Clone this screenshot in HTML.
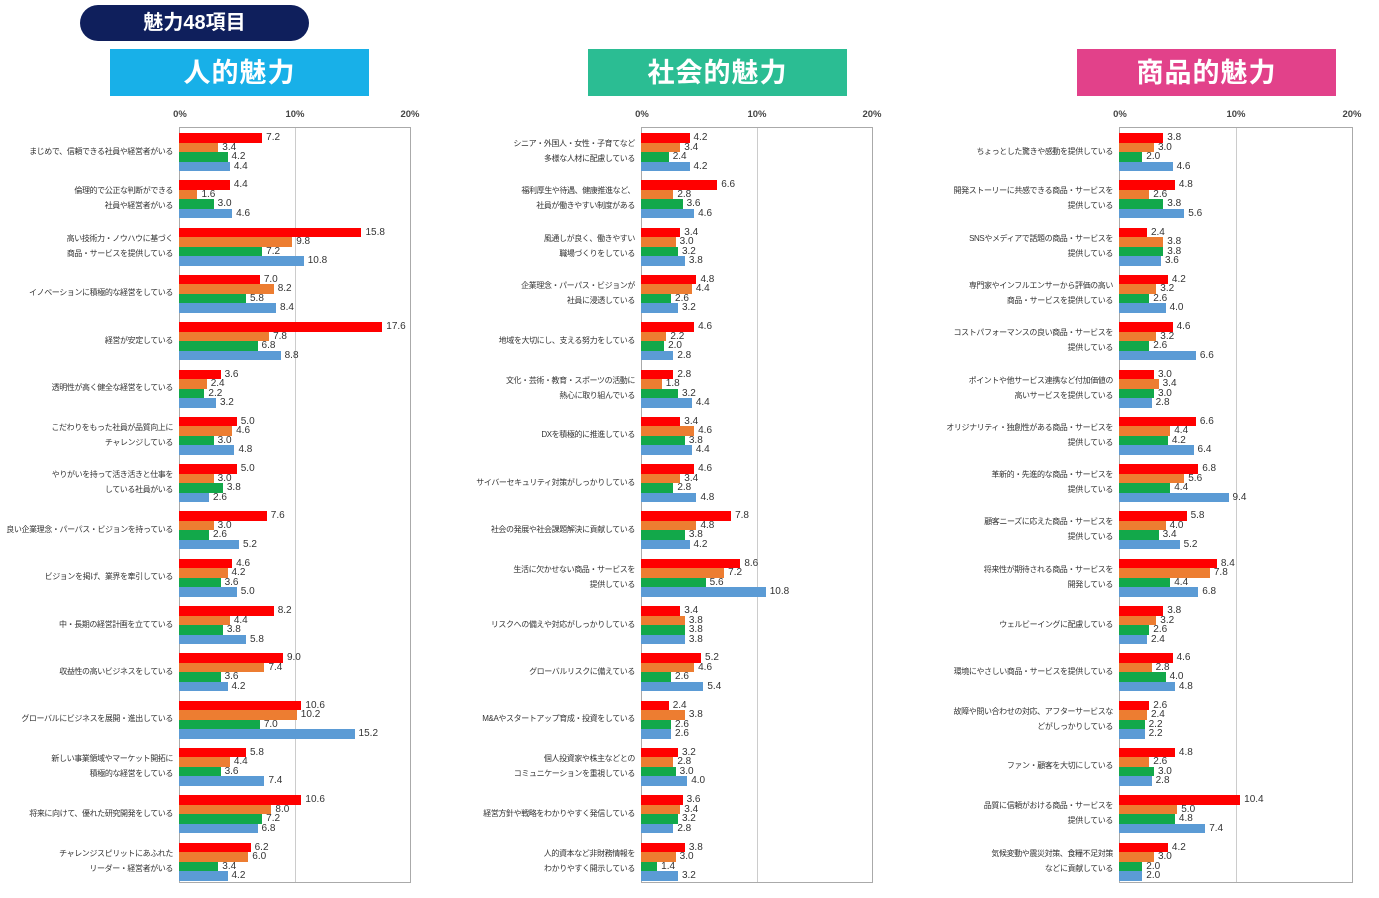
<!DOCTYPE html>
<html><head><meta charset="utf-8"><style>
*{margin:0;padding:0;box-sizing:border-box}
body{width:1379px;height:898px;background:#fff;position:relative;overflow:hidden;font-family:"Liberation Sans","Noto Sans CJK JP",sans-serif;color:#333}
.pill{position:absolute;left:80px;top:5px;width:229px;height:36px;background:#0f1f5c;border-radius:18px;color:#fff;font-size:20px;font-weight:bold;text-align:center;line-height:36px}
.hd{position:absolute;top:49px;width:259px;height:47px;color:#fff;font-size:27px;font-weight:bold;text-align:center;line-height:49px;letter-spacing:1px}
.pl{position:absolute;top:127px;width:232px;height:756px;border:1px solid #aaa;--s:11.55px}
.pl:before{content:"";position:absolute;left:50%;top:0;bottom:0;border-left:1px solid #ccc}
.tk{position:absolute;top:-19px;font-size:9.5px;font-weight:bold;color:#444;transform:translateX(-50%)}
.g{position:absolute;left:-1px;width:231px;height:38px}
.l{position:absolute;right:237px;width:220px;top:-1px;height:38px;display:flex;align-items:center;justify-content:flex-end;text-align:right;font-size:8px;letter-spacing:-0.4px;line-height:15px;color:#333;white-space:nowrap}
.g p{height:9.5px;display:flex;align-items:center;font-size:10px;line-height:9.5px;color:#333;white-space:nowrap}
.g p i{display:block;height:9.5px;width:calc(var(--v)*var(--s));margin-right:4px}
.g p:nth-child(2) i{background:#ff0000}
.g p:nth-child(3) i{background:#ed7d31}
.g p:nth-child(4) i{background:#12a84a}
.g p:nth-child(5) i{background:#5b9bd5}
</style></head><body>
<div class="pill">魅力48項目</div>
<div class="hd" style="left:110px;background:#18b0e8">人的魅力</div>
<div class="hd" style="left:588px;background:#2bbd93">社会的魅力</div>
<div class="hd" style="left:1077px;background:#e2418a">商品的魅力</div>

<div class="pl" style="left:179px">
<span class="tk" style="left:0">0%</span><span class="tk" style="left:50%">10%</span><span class="tk" style="left:100%">20%</span>
<div class="g" style="top:5px"><div class="l">まじめで、信頼できる社員や経営者がいる</div><p style="--v:7.2"><i></i>7.2</p><p style="--v:3.4"><i></i>3.4</p><p style="--v:4.2"><i></i>4.2</p><p style="--v:4.4"><i></i>4.4</p></div>
<div class="g" style="top:52.3px"><div class="l">倫理的で公正な判断ができる<br>社員や経営者がいる</div><p style="--v:4.4"><i></i>4.4</p><p style="--v:1.6"><i></i>1.6</p><p style="--v:3.0"><i></i>3.0</p><p style="--v:4.6"><i></i>4.6</p></div>
<div class="g" style="top:99.6px"><div class="l">高い技術力・ノウハウに基づく<br>商品・サービスを提供している</div><p style="--v:15.8"><i></i>15.8</p><p style="--v:9.8"><i></i>9.8</p><p style="--v:7.2"><i></i>7.2</p><p style="--v:10.8"><i></i>10.8</p></div>
<div class="g" style="top:146.9px"><div class="l">イノベーションに積極的な経営をしている</div><p style="--v:7.0"><i></i>7.0</p><p style="--v:8.2"><i></i>8.2</p><p style="--v:5.8"><i></i>5.8</p><p style="--v:8.4"><i></i>8.4</p></div>
<div class="g" style="top:194.2px"><div class="l">経営が安定している</div><p style="--v:17.6"><i></i>17.6</p><p style="--v:7.8"><i></i>7.8</p><p style="--v:6.8"><i></i>6.8</p><p style="--v:8.8"><i></i>8.8</p></div>
<div class="g" style="top:241.5px"><div class="l">透明性が高く健全な経営をしている</div><p style="--v:3.6"><i></i>3.6</p><p style="--v:2.4"><i></i>2.4</p><p style="--v:2.2"><i></i>2.2</p><p style="--v:3.2"><i></i>3.2</p></div>
<div class="g" style="top:288.8px"><div class="l">こだわりをもった社員が品質向上に<br>チャレンジしている</div><p style="--v:5.0"><i></i>5.0</p><p style="--v:4.6"><i></i>4.6</p><p style="--v:3.0"><i></i>3.0</p><p style="--v:4.8"><i></i>4.8</p></div>
<div class="g" style="top:336.1px"><div class="l">やりがいを持って活き活きと仕事を<br>している社員がいる</div><p style="--v:5.0"><i></i>5.0</p><p style="--v:3.0"><i></i>3.0</p><p style="--v:3.8"><i></i>3.8</p><p style="--v:2.6"><i></i>2.6</p></div>
<div class="g" style="top:383.4px"><div class="l">良い企業理念・パーパス・ビジョンを持っている</div><p style="--v:7.6"><i></i>7.6</p><p style="--v:3.0"><i></i>3.0</p><p style="--v:2.6"><i></i>2.6</p><p style="--v:5.2"><i></i>5.2</p></div>
<div class="g" style="top:430.7px"><div class="l">ビジョンを掲げ、業界を牽引している</div><p style="--v:4.6"><i></i>4.6</p><p style="--v:4.2"><i></i>4.2</p><p style="--v:3.6"><i></i>3.6</p><p style="--v:5.0"><i></i>5.0</p></div>
<div class="g" style="top:478px"><div class="l">中・長期の経営計画を立てている</div><p style="--v:8.2"><i></i>8.2</p><p style="--v:4.4"><i></i>4.4</p><p style="--v:3.8"><i></i>3.8</p><p style="--v:5.8"><i></i>5.8</p></div>
<div class="g" style="top:525.3px"><div class="l">収益性の高いビジネスをしている</div><p style="--v:9.0"><i></i>9.0</p><p style="--v:7.4"><i></i>7.4</p><p style="--v:3.6"><i></i>3.6</p><p style="--v:4.2"><i></i>4.2</p></div>
<div class="g" style="top:572.6px"><div class="l">グローバルにビジネスを展開・進出している</div><p style="--v:10.6"><i></i>10.6</p><p style="--v:10.2"><i></i>10.2</p><p style="--v:7.0"><i></i>7.0</p><p style="--v:15.2"><i></i>15.2</p></div>
<div class="g" style="top:619.9px"><div class="l">新しい事業領域やマーケット開拓に<br>積極的な経営をしている</div><p style="--v:5.8"><i></i>5.8</p><p style="--v:4.4"><i></i>4.4</p><p style="--v:3.6"><i></i>3.6</p><p style="--v:7.4"><i></i>7.4</p></div>
<div class="g" style="top:667.2px"><div class="l">将来に向けて、優れた研究開発をしている</div><p style="--v:10.6"><i></i>10.6</p><p style="--v:8.0"><i></i>8.0</p><p style="--v:7.2"><i></i>7.2</p><p style="--v:6.8"><i></i>6.8</p></div>
<div class="g" style="top:714.5px"><div class="l">チャレンジスピリットにあふれた<br>リーダー・経営者がいる</div><p style="--v:6.2"><i></i>6.2</p><p style="--v:6.0"><i></i>6.0</p><p style="--v:3.4"><i></i>3.4</p><p style="--v:4.2"><i></i>4.2</p></div>
</div>

<div class="pl" style="left:641px">
<span class="tk" style="left:0">0%</span><span class="tk" style="left:50%">10%</span><span class="tk" style="left:100%">20%</span>
<div class="g" style="top:5px"><div class="l">シニア・外国人・女性・子育てなど<br>多様な人材に配慮している</div><p style="--v:4.2"><i></i>4.2</p><p style="--v:3.4"><i></i>3.4</p><p style="--v:2.4"><i></i>2.4</p><p style="--v:4.2"><i></i>4.2</p></div>
<div class="g" style="top:52.3px"><div class="l">福利厚生や待遇、健康推進など、<br>社員が働きやすい制度がある</div><p style="--v:6.6"><i></i>6.6</p><p style="--v:2.8"><i></i>2.8</p><p style="--v:3.6"><i></i>3.6</p><p style="--v:4.6"><i></i>4.6</p></div>
<div class="g" style="top:99.6px"><div class="l">風通しが良く、働きやすい<br>職場づくりをしている</div><p style="--v:3.4"><i></i>3.4</p><p style="--v:3.0"><i></i>3.0</p><p style="--v:3.2"><i></i>3.2</p><p style="--v:3.8"><i></i>3.8</p></div>
<div class="g" style="top:146.9px"><div class="l">企業理念・パーパス・ビジョンが<br>社員に浸透している</div><p style="--v:4.8"><i></i>4.8</p><p style="--v:4.4"><i></i>4.4</p><p style="--v:2.6"><i></i>2.6</p><p style="--v:3.2"><i></i>3.2</p></div>
<div class="g" style="top:194.2px"><div class="l">地域を大切にし、支える努力をしている</div><p style="--v:4.6"><i></i>4.6</p><p style="--v:2.2"><i></i>2.2</p><p style="--v:2.0"><i></i>2.0</p><p style="--v:2.8"><i></i>2.8</p></div>
<div class="g" style="top:241.5px"><div class="l">文化・芸術・教育・スポーツの活動に<br>熱心に取り組んでいる</div><p style="--v:2.8"><i></i>2.8</p><p style="--v:1.8"><i></i>1.8</p><p style="--v:3.2"><i></i>3.2</p><p style="--v:4.4"><i></i>4.4</p></div>
<div class="g" style="top:288.8px"><div class="l">DXを積極的に推進している</div><p style="--v:3.4"><i></i>3.4</p><p style="--v:4.6"><i></i>4.6</p><p style="--v:3.8"><i></i>3.8</p><p style="--v:4.4"><i></i>4.4</p></div>
<div class="g" style="top:336.1px"><div class="l">サイバーセキュリティ対策がしっかりしている</div><p style="--v:4.6"><i></i>4.6</p><p style="--v:3.4"><i></i>3.4</p><p style="--v:2.8"><i></i>2.8</p><p style="--v:4.8"><i></i>4.8</p></div>
<div class="g" style="top:383.4px"><div class="l">社会の発展や社会課題解決に貢献している</div><p style="--v:7.8"><i></i>7.8</p><p style="--v:4.8"><i></i>4.8</p><p style="--v:3.8"><i></i>3.8</p><p style="--v:4.2"><i></i>4.2</p></div>
<div class="g" style="top:430.7px"><div class="l">生活に欠かせない商品・サービスを<br>提供している</div><p style="--v:8.6"><i></i>8.6</p><p style="--v:7.2"><i></i>7.2</p><p style="--v:5.6"><i></i>5.6</p><p style="--v:10.8"><i></i>10.8</p></div>
<div class="g" style="top:478px"><div class="l">リスクへの備えや対応がしっかりしている</div><p style="--v:3.4"><i></i>3.4</p><p style="--v:3.8"><i></i>3.8</p><p style="--v:3.8"><i></i>3.8</p><p style="--v:3.8"><i></i>3.8</p></div>
<div class="g" style="top:525.3px"><div class="l">グローバルリスクに備えている</div><p style="--v:5.2"><i></i>5.2</p><p style="--v:4.6"><i></i>4.6</p><p style="--v:2.6"><i></i>2.6</p><p style="--v:5.4"><i></i>5.4</p></div>
<div class="g" style="top:572.6px"><div class="l">M&amp;Aやスタートアップ育成・投資をしている</div><p style="--v:2.4"><i></i>2.4</p><p style="--v:3.8"><i></i>3.8</p><p style="--v:2.6"><i></i>2.6</p><p style="--v:2.6"><i></i>2.6</p></div>
<div class="g" style="top:619.9px"><div class="l">個人投資家や株主などとの<br>コミュニケーションを重視している</div><p style="--v:3.2"><i></i>3.2</p><p style="--v:2.8"><i></i>2.8</p><p style="--v:3.0"><i></i>3.0</p><p style="--v:4.0"><i></i>4.0</p></div>
<div class="g" style="top:667.2px"><div class="l">経営方針や戦略をわかりやすく発信している</div><p style="--v:3.6"><i></i>3.6</p><p style="--v:3.4"><i></i>3.4</p><p style="--v:3.2"><i></i>3.2</p><p style="--v:2.8"><i></i>2.8</p></div>
<div class="g" style="top:714.5px"><div class="l">人的資本など非財務情報を<br>わかりやすく開示している</div><p style="--v:3.8"><i></i>3.8</p><p style="--v:3.0"><i></i>3.0</p><p style="--v:1.4"><i></i>1.4</p><p style="--v:3.2"><i></i>3.2</p></div>
</div>

<div class="pl" style="left:1119px;width:234px;--s:11.65px">
<span class="tk" style="left:0">0%</span><span class="tk" style="left:50%">10%</span><span class="tk" style="left:100%">20%</span>
<div class="g" style="top:5px"><div class="l">ちょっとした驚きや感動を提供している</div><p style="--v:3.8"><i></i>3.8</p><p style="--v:3.0"><i></i>3.0</p><p style="--v:2.0"><i></i>2.0</p><p style="--v:4.6"><i></i>4.6</p></div>
<div class="g" style="top:52.3px"><div class="l">開発ストーリーに共感できる商品・サービスを<br>提供している</div><p style="--v:4.8"><i></i>4.8</p><p style="--v:2.6"><i></i>2.6</p><p style="--v:3.8"><i></i>3.8</p><p style="--v:5.6"><i></i>5.6</p></div>
<div class="g" style="top:99.6px"><div class="l">SNSやメディアで話題の商品・サービスを<br>提供している</div><p style="--v:2.4"><i></i>2.4</p><p style="--v:3.8"><i></i>3.8</p><p style="--v:3.8"><i></i>3.8</p><p style="--v:3.6"><i></i>3.6</p></div>
<div class="g" style="top:146.9px"><div class="l">専門家やインフルエンサーから評価の高い<br>商品・サービスを提供している</div><p style="--v:4.2"><i></i>4.2</p><p style="--v:3.2"><i></i>3.2</p><p style="--v:2.6"><i></i>2.6</p><p style="--v:4.0"><i></i>4.0</p></div>
<div class="g" style="top:194.2px"><div class="l">コストパフォーマンスの良い商品・サービスを<br>提供している</div><p style="--v:4.6"><i></i>4.6</p><p style="--v:3.2"><i></i>3.2</p><p style="--v:2.6"><i></i>2.6</p><p style="--v:6.6"><i></i>6.6</p></div>
<div class="g" style="top:241.5px"><div class="l">ポイントや他サービス連携など付加価値の<br>高いサービスを提供している</div><p style="--v:3.0"><i></i>3.0</p><p style="--v:3.4"><i></i>3.4</p><p style="--v:3.0"><i></i>3.0</p><p style="--v:2.8"><i></i>2.8</p></div>
<div class="g" style="top:288.8px"><div class="l">オリジナリティ・独創性がある商品・サービスを<br>提供している</div><p style="--v:6.6"><i></i>6.6</p><p style="--v:4.4"><i></i>4.4</p><p style="--v:4.2"><i></i>4.2</p><p style="--v:6.4"><i></i>6.4</p></div>
<div class="g" style="top:336.1px"><div class="l">革新的・先進的な商品・サービスを<br>提供している</div><p style="--v:6.8"><i></i>6.8</p><p style="--v:5.6"><i></i>5.6</p><p style="--v:4.4"><i></i>4.4</p><p style="--v:9.4"><i></i>9.4</p></div>
<div class="g" style="top:383.4px"><div class="l">顧客ニーズに応えた商品・サービスを<br>提供している</div><p style="--v:5.8"><i></i>5.8</p><p style="--v:4.0"><i></i>4.0</p><p style="--v:3.4"><i></i>3.4</p><p style="--v:5.2"><i></i>5.2</p></div>
<div class="g" style="top:430.7px"><div class="l">将来性が期待される商品・サービスを<br>開発している</div><p style="--v:8.4"><i></i>8.4</p><p style="--v:7.8"><i></i>7.8</p><p style="--v:4.4"><i></i>4.4</p><p style="--v:6.8"><i></i>6.8</p></div>
<div class="g" style="top:478px"><div class="l">ウェルビーイングに配慮している</div><p style="--v:3.8"><i></i>3.8</p><p style="--v:3.2"><i></i>3.2</p><p style="--v:2.6"><i></i>2.6</p><p style="--v:2.4"><i></i>2.4</p></div>
<div class="g" style="top:525.3px"><div class="l">環境にやさしい商品・サービスを提供している</div><p style="--v:4.6"><i></i>4.6</p><p style="--v:2.8"><i></i>2.8</p><p style="--v:4.0"><i></i>4.0</p><p style="--v:4.8"><i></i>4.8</p></div>
<div class="g" style="top:572.6px"><div class="l">故障や問い合わせの対応、アフターサービスな<br>どがしっかりしている</div><p style="--v:2.6"><i></i>2.6</p><p style="--v:2.4"><i></i>2.4</p><p style="--v:2.2"><i></i>2.2</p><p style="--v:2.2"><i></i>2.2</p></div>
<div class="g" style="top:619.9px"><div class="l">ファン・顧客を大切にしている</div><p style="--v:4.8"><i></i>4.8</p><p style="--v:2.6"><i></i>2.6</p><p style="--v:3.0"><i></i>3.0</p><p style="--v:2.8"><i></i>2.8</p></div>
<div class="g" style="top:667.2px"><div class="l">品質に信頼がおける商品・サービスを<br>提供している</div><p style="--v:10.4"><i></i>10.4</p><p style="--v:5.0"><i></i>5.0</p><p style="--v:4.8"><i></i>4.8</p><p style="--v:7.4"><i></i>7.4</p></div>
<div class="g" style="top:714.5px"><div class="l">気候変動や震災対策、食糧不足対策<br>などに貢献している</div><p style="--v:4.2"><i></i>4.2</p><p style="--v:3.0"><i></i>3.0</p><p style="--v:2.0"><i></i>2.0</p><p style="--v:2.0"><i></i>2.0</p></div>
</div>
</body></html>
